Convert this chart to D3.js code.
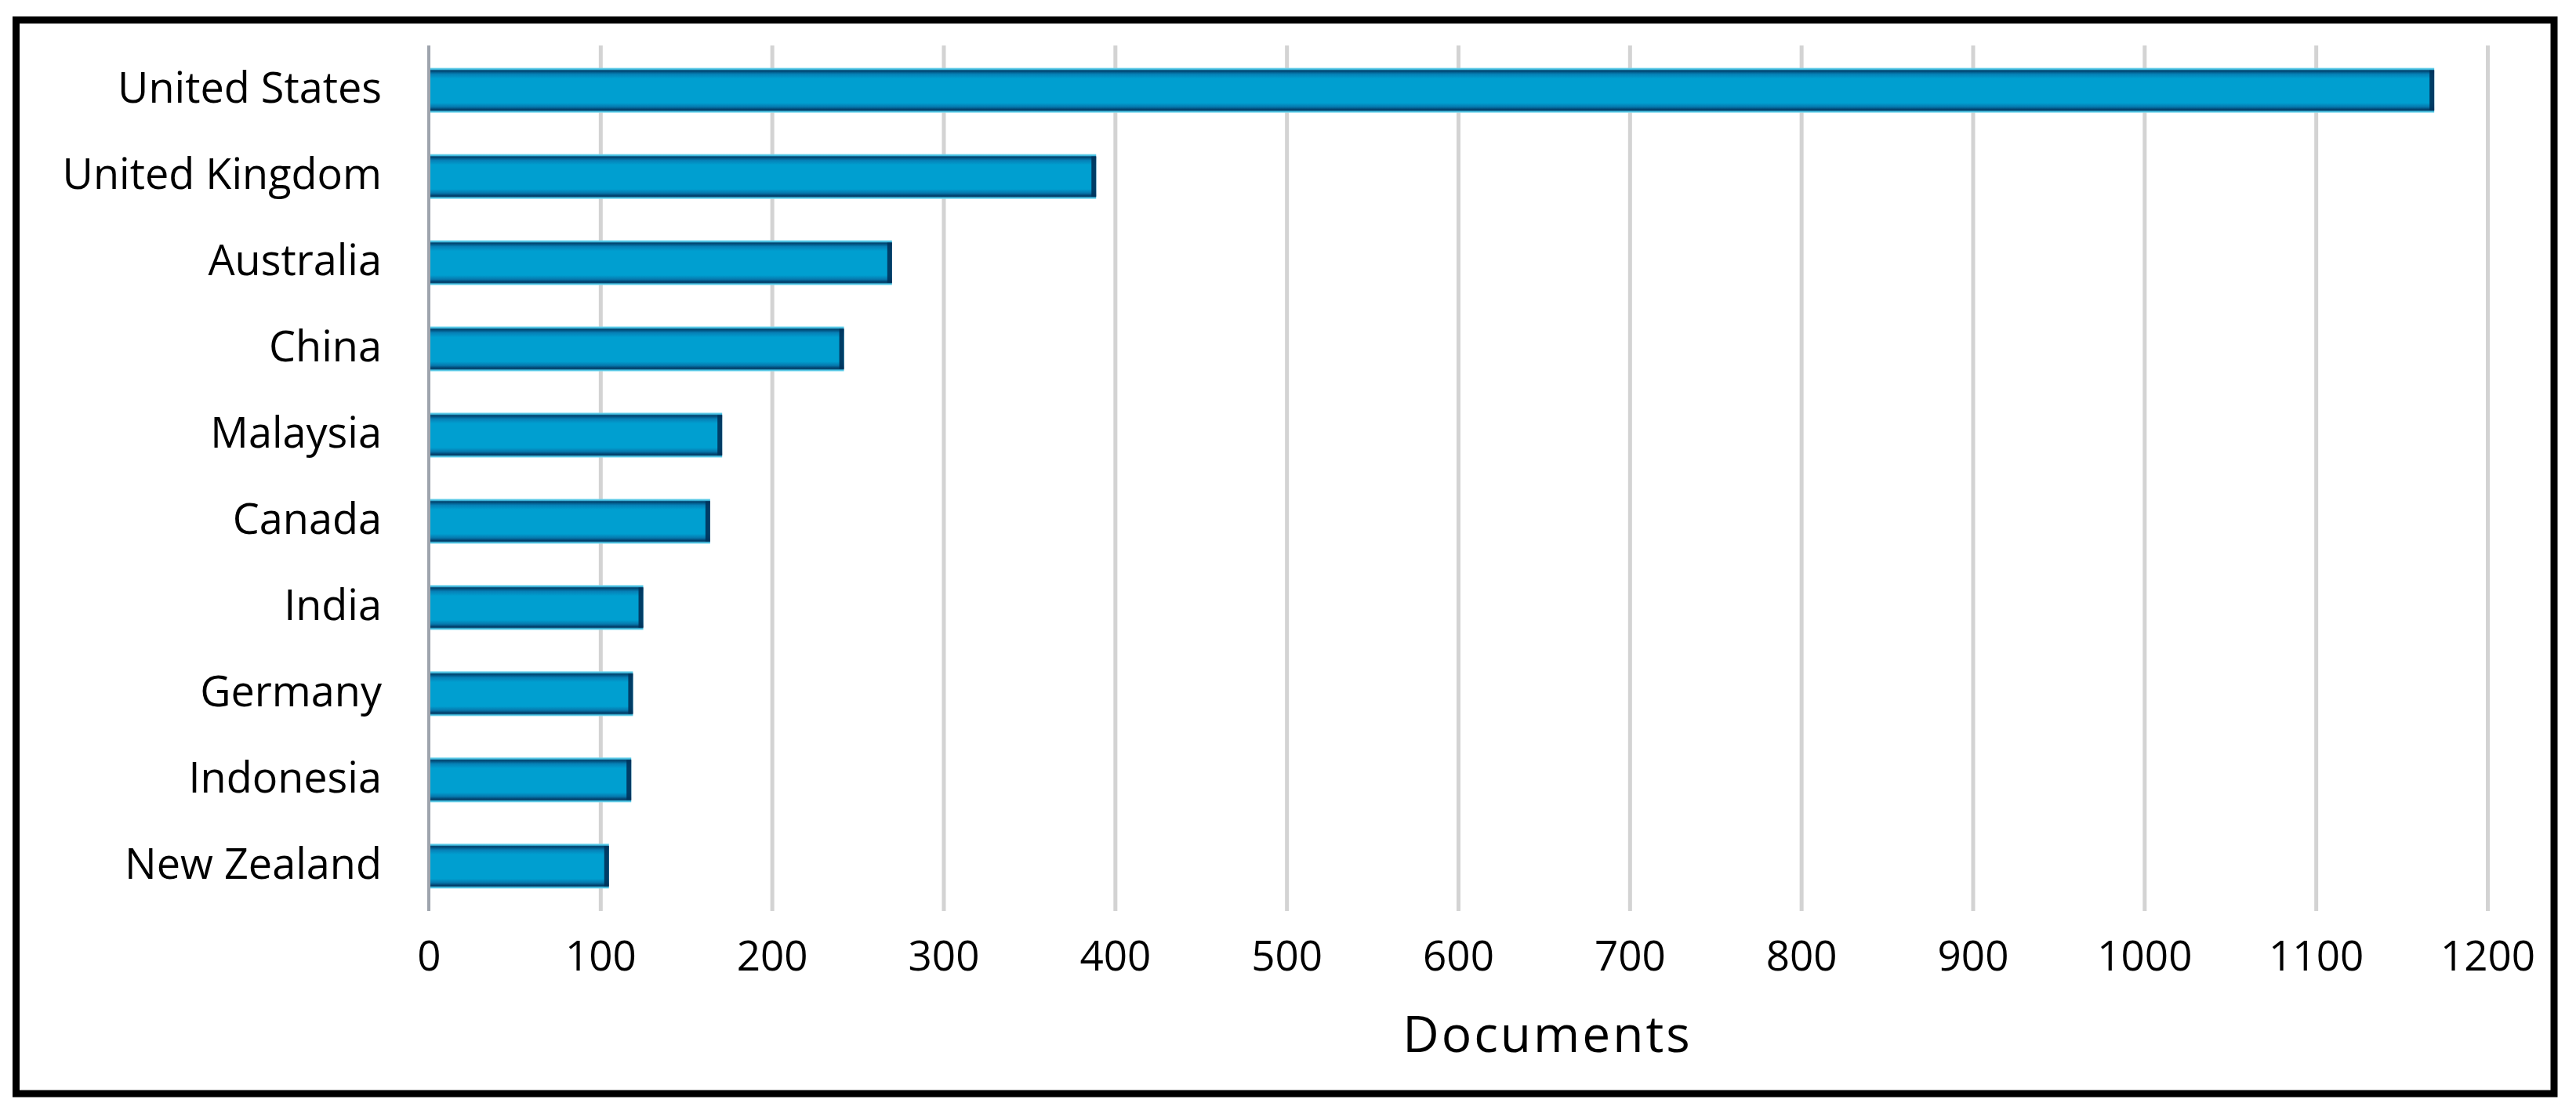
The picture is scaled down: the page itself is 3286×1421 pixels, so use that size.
<!DOCTYPE html>
<html>
<head>
<meta charset="utf-8">
<script src="https://cdn.jsdelivr.net/npm/d3@7"></script>
<style>
  body { margin: 0; background: #fff; }
  svg { display: block; }
  .label text { font-family: "Open Sans", sans-serif; fill: #000; }
</style>
</head>
<body>
<div id="chart"></div>
<script>
const countries = ["United States", "United Kingdom", "Australia", "China", "Malaysia",
  "Canada", "India", "Germany", "Indonesia", "New Zealand"];
const documents = [1169, 389, 270, 242, 171, 164, 125, 119, 118, 105];
const xTicks = [0, 100, 200, 300, 400, 500, 600, 700, 800, 900, 1000, 1100, 1200];
const xTitle = "Documents";

const W = 3286, H = 1421;
let data = countries.map((c, i) => ({ country: c, value: documents[i] }));

let svg = d3.select("#chart").append("svg")
  .attr("width", W)
  .attr("height", H);

let x = d3.scaleLinear().domain([0, 1200]).range([547, 3173]);
let y = d3.scaleBand().domain(countries).range([58, 1162])
  .paddingInner(0.48).paddingOuter(0.26);

// bar shading: light rim, dark edge, flat middle
let defs = svg.append("defs");
let grad = defs.append("linearGradient")
  .attr("id", "barGrad")
  .attr("x1", 0).attr("y1", 0).attr("x2", 0).attr("y2", 1);
[[0, "#7ad8ee"], [0.035, "#3fb8dc"], [0.06, "#003f6a"], [0.14, "#0680b6"], [0.24, "#009fd0"],
 [0.78, "#009fd0"], [0.87, "#0678ad"], [0.94, "#00355f"], [0.97, "#3fbadc"], [1, "#86def2"]]
  .forEach(s => grad.append("stop").attr("offset", s[0]).attr("stop-color", s[1]));

// vertical gridlines
let grid = svg.append("g")
  .attr("transform", "translate(0," + y.range()[1] + ")")
  .call(d3.axisBottom(x).tickValues(xTicks.slice(1)).tickSize(-(y.range()[1] - y.range()[0])).tickFormat(""));
grid.select(".domain").remove();
grid.selectAll(".tick line").attr("stroke", "#d3d3d3").attr("stroke-width", 5);

// zero line
svg.append("line")
  .attr("x1", x(0)).attr("x2", x(0))
  .attr("y1", y.range()[0]).attr("y2", y.range()[1])
  .attr("stroke", "#9ea4ad").attr("stroke-width", 4);

// bars
let bars = svg.append("g").selectAll("g").data(data).join("g");
bars.append("rect")
  .attr("x", x(0) + 2)
  .attr("y", d => y(d.country))
  .attr("width", d => x(d.value) - x(0) - 2)
  .attr("height", y.bandwidth())
  .attr("fill", "url(#barGrad)");
bars.append("rect")
  .attr("x", d => x(d.value) - 6)
  .attr("y", d => y(d.country) + 3)
  .attr("width", 6)
  .attr("height", y.bandwidth() - 6)
  .attr("fill", "#00325a")
  .attr("opacity", 0.9);

// country labels
let yAxis = svg.append("g")
  .attr("class", "label")
  .attr("transform", "translate(" + x(0) + ",0)")
  .call(d3.axisLeft(y).tickSize(0).tickPadding(60));
yAxis.select(".domain").remove();
yAxis.selectAll("text")
  .attr("font-size", 54)
  .attr("dy", "0.3em");

// tick labels
let xAxis = svg.append("g")
  .attr("class", "label")
  .attr("transform", "translate(0," + y.range()[1] + ")")
  .call(d3.axisBottom(x).tickValues(xTicks).tickSize(0).tickFormat(d3.format("d")));
xAxis.select(".domain").remove();
xAxis.selectAll("text")
  .attr("font-size", 53)
  .attr("y", 76)
  .attr("dy", 0);

// axis title
svg.append("text")
  .attr("x", 1974)
  .attr("y", 1342)
  .attr("text-anchor", "middle")
  .attr("font-family", "Open Sans, sans-serif")
  .attr("font-size", 64)
  .attr("letter-spacing", 3)
  .attr("fill", "#000")
  .text(xTitle);

// frame
svg.append("rect")
  .attr("x", 20.5).attr("y", 25.5)
  .attr("width", 3237.5).attr("height", 1369.5)
  .attr("fill", "none")
  .attr("stroke", "#000")
  .attr("stroke-width", 9);
</script>
</body>
</html>
